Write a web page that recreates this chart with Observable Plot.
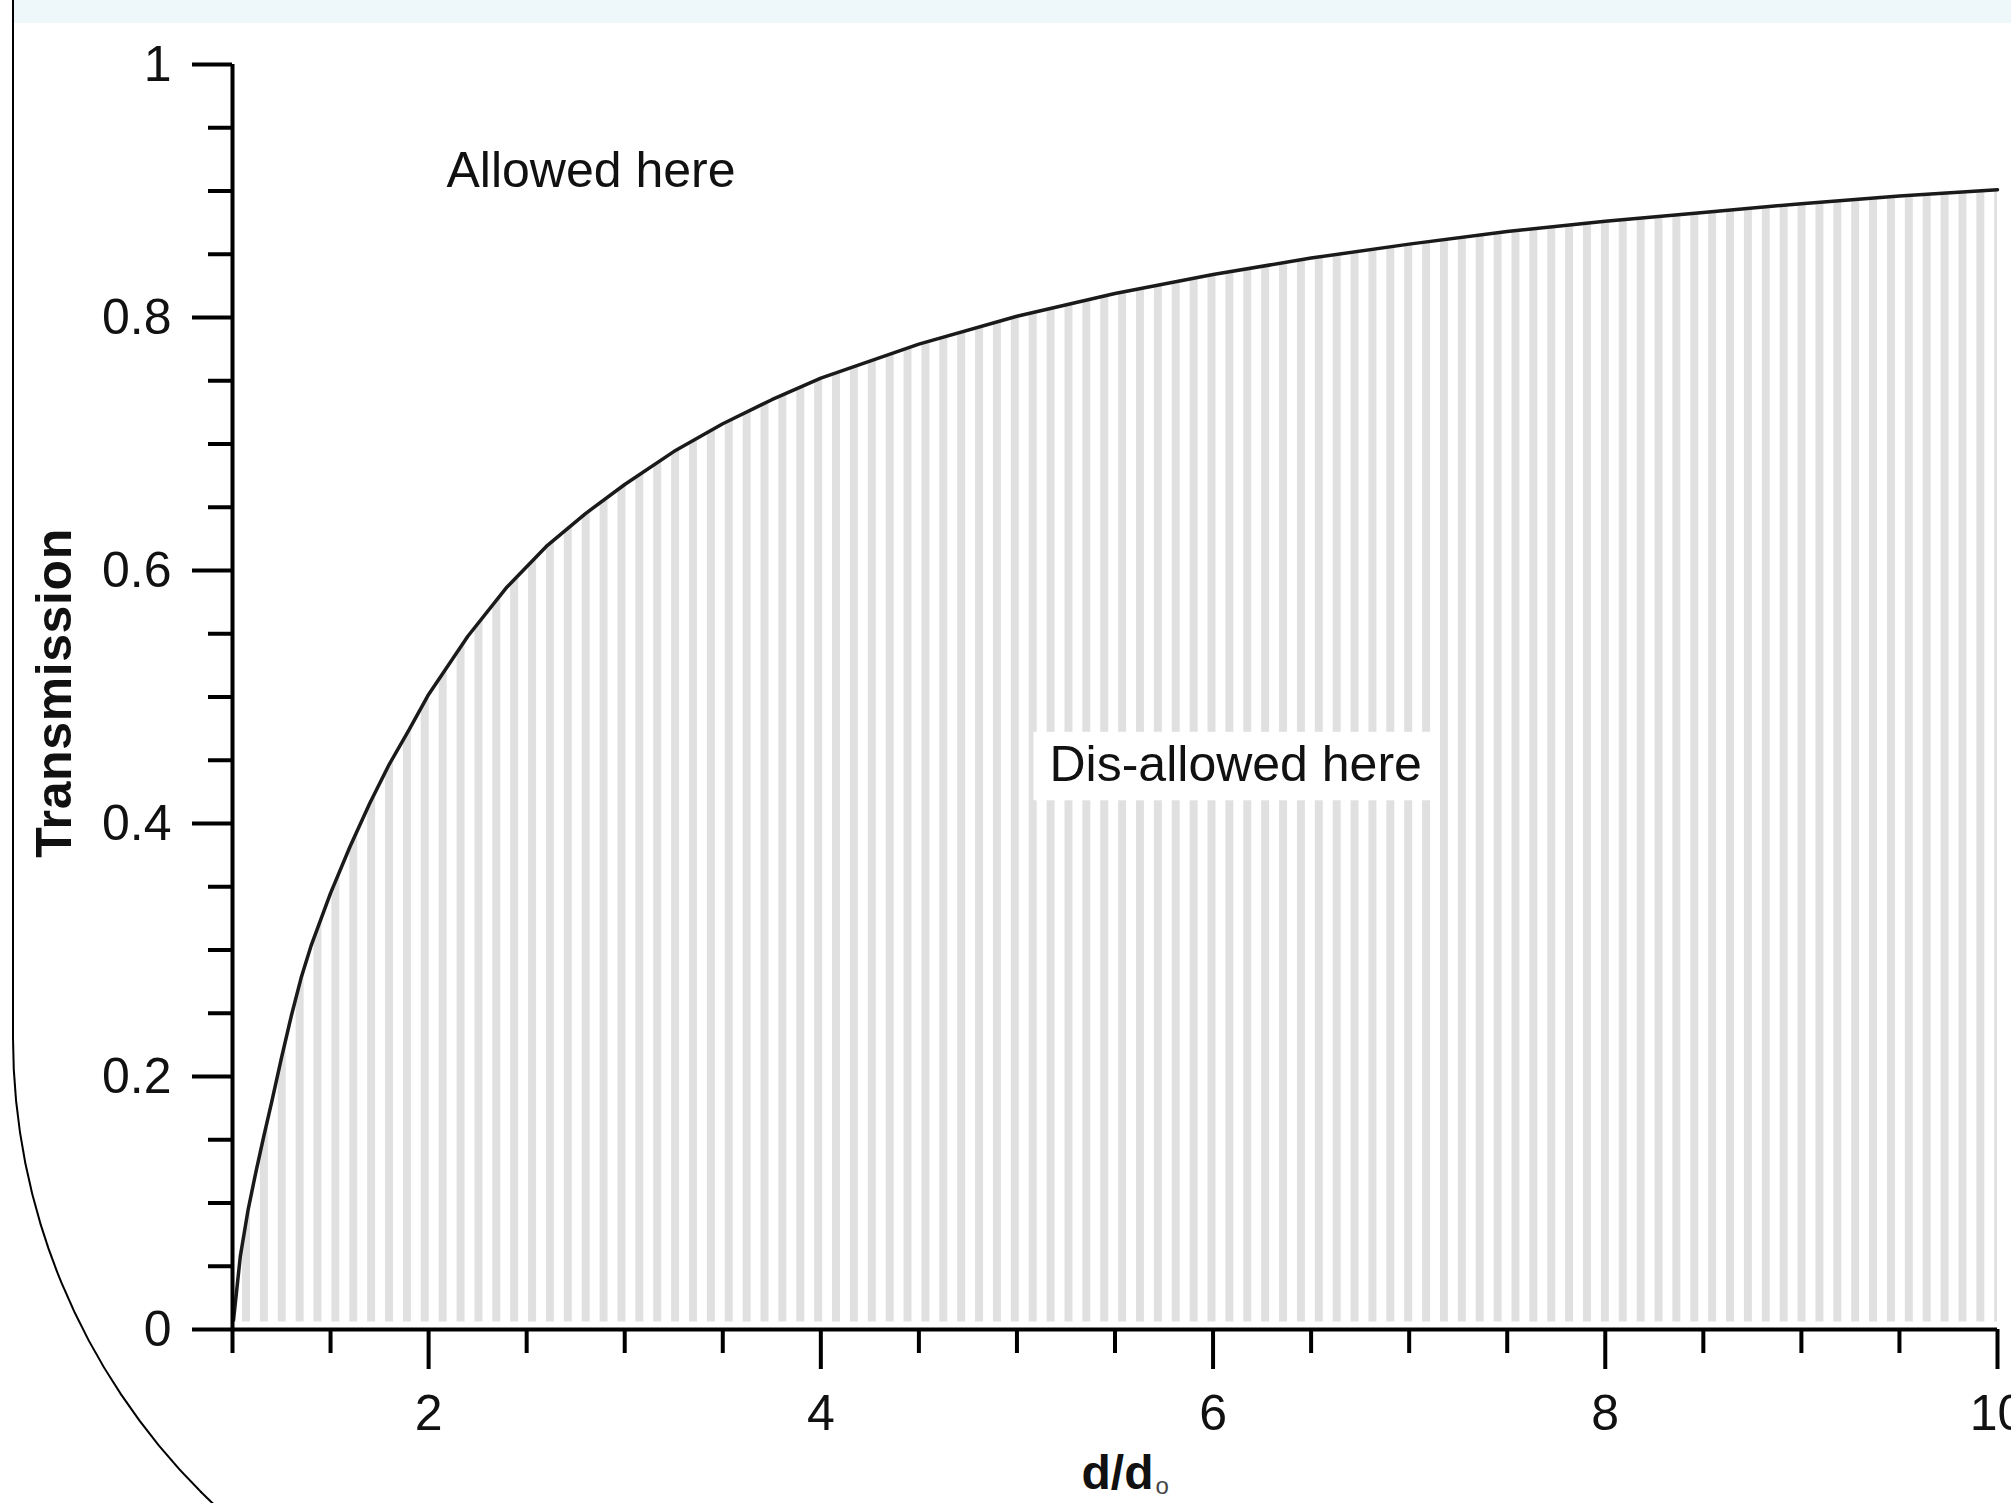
<!DOCTYPE html>
<html><head><meta charset="utf-8">
<script src="https://cdn.jsdelivr.net/npm/d3@7"></script>
<script src="https://cdn.jsdelivr.net/npm/@observablehq/plot@0.6"></script>
<style>
html,body{margin:0;padding:0;background:#fff;overflow:hidden;width:2011px;height:1503px;}
#wrap{position:relative;width:2011px;height:1503px;overflow:hidden;}
#chart{position:absolute;left:0;top:0;}
#band{position:absolute;left:14px;top:0;width:1997px;height:23px;background:#eef7f9;}
#frame{position:absolute;left:12px;top:0;width:3000px;height:1681px;box-sizing:border-box;border-left:2px solid #000;border-bottom:2px solid #000;border-bottom-left-radius:643px;pointer-events:none;}
</style></head><body>
<div id="wrap"><div id="chart"></div><div id="band"></div><div id="frame"></div></div>
<script>
// d / d0 ratio and transmission
const ratio = [1, 1.04, 1.08, 1.12, 1.16, 1.2, 1.25, 1.3, 1.35, 1.4, 1.5, 1.6, 1.7, 1.8, 1.9, 2, 2.2, 2.4, 2.6, 2.8, 3, 3.25, 3.5, 3.75, 4, 4.5, 5, 5.5, 6, 6.5, 7, 7.5, 8, 8.5, 9, 9.5, 10];
const transmission = [0, 0.058, 0.095, 0.125, 0.153, 0.18, 0.215, 0.248, 0.278, 0.303, 0.345, 0.382, 0.416, 0.447, 0.474, 0.502, 0.548, 0.587, 0.619, 0.645, 0.668, 0.694, 0.716, 0.735, 0.752, 0.779, 0.801, 0.819, 0.834, 0.847, 0.858, 0.868, 0.876, 0.883, 0.89, 0.896, 0.901];

const xMajorTicks = [2, 4, 6, 8, 10];
const xMinorTicks = [1, 1.5, 2.5, 3, 3.5, 4.5, 5, 5.5, 6.5, 7, 7.5, 8.5, 9, 9.5];
const yMajorTicks = [0, 0.2, 0.4, 0.6, 0.8, 1];
const yMinorTicks = [0.05, 0.1, 0.15, 0.25, 0.3, 0.35, 0.45, 0.5, 0.55, 0.65, 0.7, 0.75, 0.85, 0.9, 0.95];

const noteLabels = ["Allowed here", "Dis-allowed here"];
const noteX = [2.091, 5.166];
const noteY = [0.916, 0.446];

const yTitle = "Transmission";
const xTitle = "d/d";
const xTitleSub = "o";

const curve = ratio.map((d, i) => ({d, t: transmission[i]}));
const notes = noteLabels.map((label, i) => ({label, x: noteX[i], y: noteY[i]}));

const font = '"Liberation Sans", Arial, Helvetica, sans-serif';
const plain = (d) => String(d);

const svg = Plot.plot({
  width: 2011,
  height: 1503,
  marginLeft: 232,
  marginRight: 14,
  marginTop: 64,
  marginBottom: 174,
  style: {fontFamily: font, fontSize: "50px", color: "#000", background: "transparent"},
  x: {domain: [1, 10], label: null},
  y: {domain: [0, 1], label: null},
  marks: [
    Plot.areaY(curve, {x: "d", y: "t", fill: "url(#stripes)"}),
    Plot.line(curve, {x: "d", y: "t", stroke: "#1a1a1a", strokeWidth: 3.5}),
    Plot.ruleY([0], {stroke: "white", strokeWidth: 10, dy: -3}),
    Plot.ruleX([1], {stroke: "#000", strokeWidth: 4}),
    Plot.ruleY([0], {stroke: "#000", strokeWidth: 4}),
    Plot.axisY(yMajorTicks, {tickSize: 40, tickPadding: 21, strokeWidth: 4, label: null, fill: "#111", tickFormat: plain}),
    Plot.axisY(yMinorTicks, {tickSize: 24, strokeWidth: 4, tickFormat: () => "", label: null}),
    Plot.axisX(xMajorTicks, {tickSize: 40, tickPadding: 25, strokeWidth: 4, label: null, fill: "#111", tickFormat: plain}),
    Plot.axisX(xMinorTicks, {tickSize: 24, strokeWidth: 4, tickFormat: () => "", label: null}),
    Plot.text(notes, {x: "x", y: "y", text: "label", textAnchor: "start", lineAnchor: "middle", fontSize: 50, fill: "#111"}),
    Plot.text([yTitle], {frameAnchor: "left", rotate: -90, textAnchor: "middle", lineAnchor: "middle", fontWeight: "bold", fontSize: 50, dx: -178, dy: -4, fill: "#111"}),
    Plot.text([xTitle], {frameAnchor: "bottom", textAnchor: "start", lineAnchor: "bottom", fontWeight: "bold", fontSize: 48, dx: -33.5, dy: 159, fill: "#111"})
  ]
});

// stripe pattern used as the fill of the dis-allowed region
const s = d3.select(svg);
const defs = s.insert("defs", ":first-child");
const pat = defs.append("pattern")
  .attr("id", "stripes")
  .attr("patternUnits", "userSpaceOnUse")
  .attr("x", 242).attr("y", 0)
  .attr("width", 17.88).attr("height", 20);
pat.append("rect").attr("x", 0).attr("y", 0).attr("width", 8).attr("height", 20).attr("fill", "#e0e0e0");

document.getElementById("chart").appendChild(svg);

// subscript on the x title
s.selectAll("text").filter(function () { return this.textContent === xTitle; })
  .append("tspan").text(xTitleSub)
  .attr("font-size", 24).attr("font-weight", "normal").attr("dx", 2).attr("dy", 5).attr("fill", "#444");

// letter spacing of y title
s.selectAll("text").filter(function () { return this.textContent === yTitle; })
  .style("letter-spacing", "0.6px");

// white box behind the "Dis-allowed here" label
s.selectAll("text").filter(function () { return this.textContent === noteLabels[1]; })
  .each(function () {
    const b = this.getBBox();
    const g = this.parentNode;
    const r = document.createElementNS("http://www.w3.org/2000/svg", "rect");
    r.setAttribute("x", b.x - 16);
    r.setAttribute("y", b.y - 4.5);
    r.setAttribute("width", b.width + 25);
    r.setAttribute("height", b.height + 12.5);
    r.setAttribute("fill", "#fff");
    const tr = this.getAttribute("transform");
    if (tr) r.setAttribute("transform", tr);
    g.insertBefore(r, this);
  });
</script>
</body></html>
